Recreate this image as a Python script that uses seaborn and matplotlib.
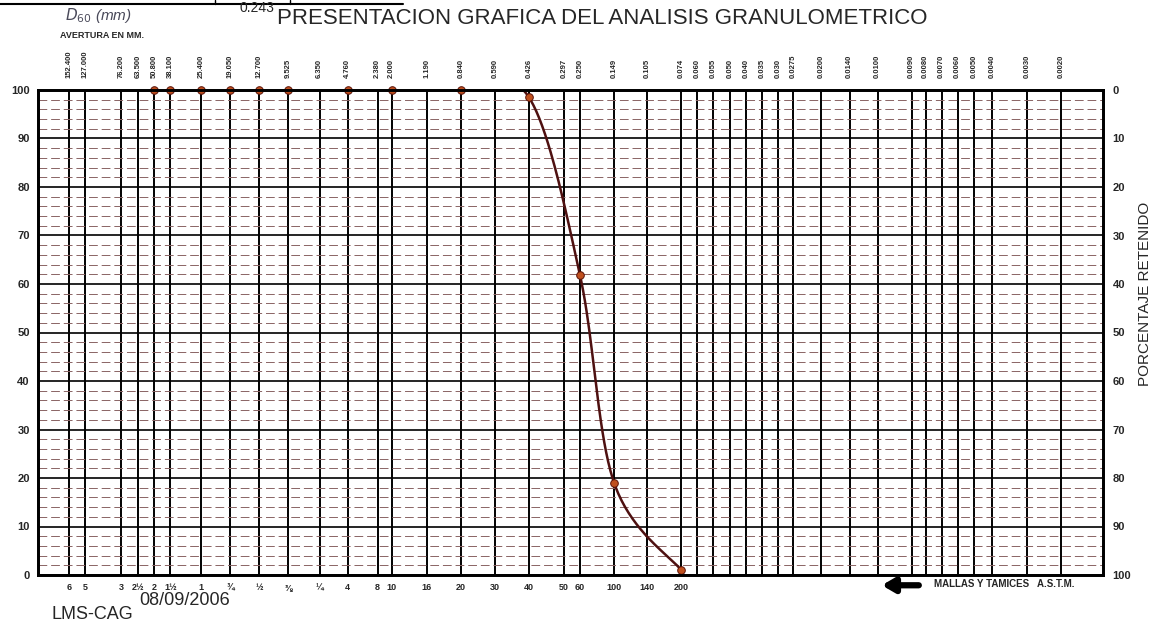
import numpy as np
import pandas as pd
import matplotlib
matplotlib.use("Agg")
import matplotlib.pyplot as plt
from matplotlib.lines import Line2D
from matplotlib.ticker import NullLocator
import seaborn as sns

# sieve openings printed along the top of the sheet (mm)
sieve_mm = [152.4, 127.0, 76.2, 63.5, 50.8, 38.1, 25.4, 19.05, 12.7, 9.525,
            6.35, 4.76, 2.38, 2.0, 1.19, 0.84, 0.59, 0.426, 0.297, 0.25,
            0.149, 0.105, 0.074, 0.060, 0.055, 0.050, 0.040, 0.035, 0.030,
            0.0275, 0.0200, 0.0140, 0.0100, 0.0090, 0.0080, 0.0070, 0.0060,
            0.0050, 0.0040, 0.0030, 0.0020]
sieve_txt = ["152.400", "127.000", "76.200", "63.500", "50.800", "38.100",
             "25.400", "19.050", "12.700", "9.525", "6.350", "4.760", "2.380",
             "2.000", "1.190", "0.840", "0.590", "0.426", "0.297", "0.250",
             "0.149", "0.105", "0.074", "0.060", "0.055", "0.050", "0.040",
             "0.035", "0.030", "0.0275", "0.0200", "0.0140", "0.0100",
             "0.0090", "0.0080", "0.0070", "0.0060", "0.0050", "0.0040",
             "0.0030", "0.0020"]
# ASTM mesh names under the first columns
astm_txt = ["6", "5", "3", "2½", "2", "1½", "1", "¾", "½", "⅜", "¼",
            "4", "8", "10", "16", "20", "30", "40", "50", "60", "100", "140", "200"]

# test result: % passing
test_mm = [50.8, 38.1, 25.4, 19.05, 12.7, 9.525, 4.76, 2.0, 0.84, 0.426,
           0.25, 0.149, 0.074]
pct_pass = [100, 100, 100, 100, 100, 100, 100, 100, 100, 98.5, 61.8, 19.0, 1.0]
d60 = "0.243"

# printed sheet is not log spaced -> column positions across the frame
col_pos = [31, 47, 83, 100, 116, 132, 163, 192, 221, 250, 281, 309, 339, 353,
           388, 422, 456, 490, 525, 541, 575, 608, 642, 658, 674, 691, 707,
           723, 739, 754, 782, 810, 838, 872, 886, 902, 918, 934, 952, 987, 1021]
x_left, x_right, frame_w = 250.0, 0.0012, 1063

anc_u = -np.log10(np.array([x_left] + sieve_mm + [x_right]))
anc_p = np.array([0] + col_pos + [frame_w], dtype=float)


# scale must grow with the value, the axis is inverted with xlim
def fwd(d):
    d = np.clip(np.asarray(d, dtype=float), 1e-6, None)
    return -np.interp(-np.log10(d), anc_u, anc_p)


def inv(p):
    return 10 ** (-np.interp(-np.asarray(p, dtype=float), anc_p, anc_u))


# smoothed line like the spreadsheet (bezier through the points)
pts = np.column_stack([fwd(test_mm), np.array(pct_pass, float)])
segs = []
t = np.linspace(0, 1, 40)[:, None]
for i in range(len(pts) - 1):
    p0, p1 = pts[max(i - 1, 0)], pts[i]
    p2, p3 = pts[i + 1], pts[min(i + 2, len(pts) - 1)]
    b1 = p1 + (p2 - p0) / 6
    b2 = p2 - (p3 - p1) / 6
    segs.append((1 - t) ** 3 * p1 + 3 * (1 - t) ** 2 * t * b1
                + 3 * (1 - t) * t ** 2 * b2 + t ** 3 * p2)
curve = np.vstack(segs)
curve_df = pd.DataFrame({"mm": inv(curve[:, 0]), "pct": curve[:, 1]})
pts_df = pd.DataFrame({"mm": test_mm, "pct": pct_pass})

sns.set_theme(style="white")
plt.rcParams["font.family"] = ["Liberation Sans", "DejaVu Sans"]

fig = plt.figure(figsize=(11.52, 6.3), dpi=100)
ax = fig.add_axes([38 / 1152, 55 / 630, 1065 / 1152, 485 / 630])

sns.lineplot(data=curve_df, x="mm", y="pct", sort=False, estimator=None,
             color="#4e1010", lw=1.8, ax=ax, zorder=4)
sns.scatterplot(data=pts_df, x="mm", y="pct", s=30, color="#c0501e",
                edgecolor="#5a1208", linewidth=0.7, zorder=5, clip_on=False, ax=ax)

ax.set_xscale("function", functions=(fwd, inv))
ax.set_xlim(x_left, x_right)
ax.set_ylim(0, 100)
ax.set_xlabel("")
ax.set_ylabel("")
ax.set_axisbelow(True)

ax.set_xticks(sieve_mm)
ax.set_xticklabels(astm_txt + [""] * (len(sieve_mm) - len(astm_txt)),
                   fontsize=6.5, fontweight="bold")
ax.xaxis.set_minor_locator(NullLocator())
ax.set_yticks(range(0, 101, 10))
ax.set_yticks(range(0, 101, 2), minor=True)
ax.set_yticklabels([str(v) for v in range(0, 101, 10)], fontsize=8, fontweight="bold")
ax.tick_params(which="both", length=0)
ax.tick_params(axis="x", pad=6)
ax.tick_params(axis="y", pad=6)
ax.grid(axis="x", which="major", color="black", lw=1.4)
ax.grid(axis="y", which="major", color="black", lw=1.2)
ax.grid(axis="y", which="minor", color="#8a6464", lw=0.7, ls=(0, (9, 4)))

# top axis: openings in mm
top = ax.twiny()
top.set_xscale("function", functions=(fwd, inv))
top.set_xlim(x_left, x_right)
top.set_xticks(sieve_mm)
top.set_xticklabels(sieve_txt, rotation=90, fontsize=5.5, fontweight="bold")
top.xaxis.set_minor_locator(NullLocator())
top.tick_params(length=0, pad=9)

# right axis: % retained
right = ax.twinx()
right.set_ylim(100, 0)
right.set_yticks(range(0, 101, 10))
right.set_yticklabels([str(v) for v in range(0, 101, 10)], fontsize=8, fontweight="bold")
right.tick_params(length=0, pad=7)
right.set_ylabel("PORCENTAJE RETENIDO", fontsize=11, rotation=90)
right.yaxis.set_label_coords(1.033, 0.58)

for a in (ax, top, right):
    for s in a.spines.values():
        s.set_color("black")
        s.set_linewidth(1.8)

# header
fig.text(0.523, 0.971, "PRESENTACION GRAFICA DEL ANALISIS GRANULOMETRICO",
         ha="center", va="center", fontsize=16)
fig.text(0.056, 0.975, r"$D_{60}$ (mm)", fontsize=11, style="italic",
         color="#4a4a5a", va="center")
fig.text(0.208, 0.987, d60, fontsize=10, va="center")
fig.text(0.052, 0.944, "AVERTURA EN MM.", fontsize=6.5, fontweight="bold", va="center")
fig.add_artist(Line2D([0.0, 0.35], [0.994, 0.994], color="black", lw=1.5))
fig.add_artist(Line2D([0.187, 0.187], [0.994, 1.0], color="black", lw=1.0))
fig.add_artist(Line2D([0.252, 0.252], [0.994, 1.0], color="black", lw=1.0))

# footer
fig.text(0.045, 0.025, "LMS-CAG", fontsize=13, va="center")
fig.text(0.121, 0.047, "08/09/2006", fontsize=13, va="center")
ax.annotate("", xy=(0.763, 0.071), xytext=(0.800, 0.071), xycoords="figure fraction",
            arrowprops=dict(arrowstyle="-|>,head_length=0.6,head_width=0.35",
                            color="black", lw=4.5))
fig.text(0.811, 0.073, "MALLAS Y TAMICES   A.S.T.M.", fontsize=7,
         fontweight="bold", va="center")

fig.savefig("out.png", dpi=100, facecolor="white")
